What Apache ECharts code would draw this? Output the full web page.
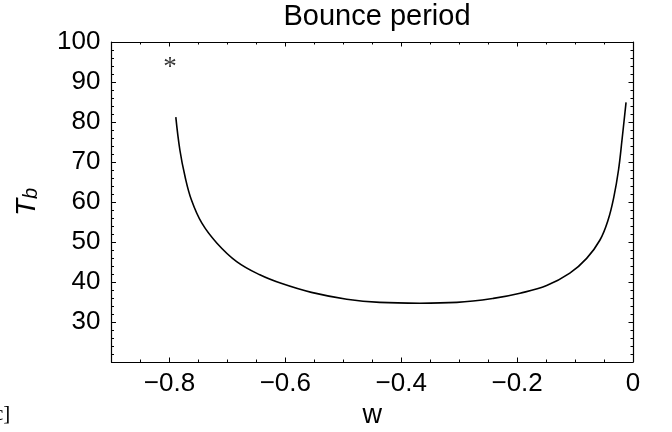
<!DOCTYPE html>
<html><head><meta charset="utf-8">
<script src="https://cdn.jsdelivr.net/npm/echarts@6/dist/echarts.min.js"></script>
<style>html,body{margin:0;padding:0;background:#fff}#c{width:672px;height:432px}</style>
</head><body><div id="c"></div>
<script>
// ---- data ----
const wValues  = [-0.789, -0.782, -0.773, -0.762, -0.744, -0.718, -0.684, -0.644, -0.606, -0.555, -0.494, -0.437, -0.368, -0.304, -0.241, -0.195, -0.149, -0.109, -0.080, -0.057, -0.043, -0.033, -0.025, -0.019, -0.012];
const tbValues = [81.2, 73.0, 66.3, 60.5, 54.7, 49.7, 45.1, 41.8, 39.6, 37.4, 35.7, 34.9, 34.7, 34.9, 35.9, 37.2, 39.1, 42.2, 45.9, 50.5, 55.5, 61.3, 68.0, 75.5, 84.9];
const starPoint = [-0.799, 93.5];
const xTickLabels = [-0.8, -0.6, -0.4, -0.2, 0];
const yTickLabels = [30, 40, 50, 60, 70, 80, 90, 100];
const titleText = 'Bounce period';
const xName = 'w';

const FONT = 'Liberation Sans';
const curve = wValues.map((w, i) => [w, tbValues[i]]);
const fmtX = v => v < 0 ? '\u2212' + Math.abs(v).toFixed(1) : String(v);

const gridPos = { left: 111.5, right: 39, top: 42, bottom: 70, outerBoundsMode: 'none' };
const line = { show: true, onZero: false, lineStyle: { color: '#000', width: 1.2 } };

const chart = echarts.init(document.getElementById('c'), null, { renderer: 'canvas' });
chart.setOption({
  animation: false,
  backgroundColor: '#fff',
  title: {
    text: titleText, left: 372, top: -3, textAlign: 'center',
    textStyle: { fontFamily: FONT, fontSize: 29, fontWeight: 'normal', color: '#000' }
  },
  grid: [Object.assign({}, gridPos), Object.assign({}, gridPos)],
  xAxis: [
    { gridIndex: 0, type: 'value', position: 'bottom', min: -0.9, max: 0, interval: 0.05,
      axisLine: line, axisTick: { inside: true, length: 2.5, lineStyle: { color: '#000' } },
      axisLabel: { show: false }, splitLine: { show: false } },
    { gridIndex: 0, type: 'value', position: 'top', min: -0.9, max: 0, interval: 0.05,
      axisLine: line, axisTick: { inside: true, length: 2.5, lineStyle: { color: '#000' } },
      axisLabel: { show: false }, splitLine: { show: false } },
    { gridIndex: 1, type: 'value', position: 'bottom', min: -0.9, max: 0,
      name: xName, nameLocation: 'middle', nameGap: 26,
      nameTextStyle: { fontFamily: FONT, fontSize: 27, color: '#000' },
      axisLine: { show: false, onZero: false },
      axisTick: { inside: true, length: 4.5, customValues: xTickLabels, lineStyle: { color: '#000' } },
      axisLabel: { customValues: xTickLabels, formatter: fmtX, margin: 9, fontFamily: FONT, fontSize: 26, color: '#000' },
      splitLine: { show: false } },
    { gridIndex: 1, type: 'value', position: 'top', min: -0.9, max: 0,
      axisLine: { show: false, onZero: false },
      axisTick: { inside: true, length: 4.5, customValues: xTickLabels, lineStyle: { color: '#000' } },
      axisLabel: { show: false }, splitLine: { show: false } }
  ],
  yAxis: [
    { gridIndex: 0, type: 'value', position: 'left', min: 20, max: 100, interval: 10,
      name: '{t|T}{s|b}', nameLocation: 'middle', nameGap: 70,
      nameTextStyle: { color: '#000', rich: {
        t: { fontFamily: FONT, fontSize: 28, fontStyle: 'italic', lineHeight: 28, verticalAlign: 'bottom', color: '#000' },
        s: { fontFamily: FONT, fontSize: 20, fontStyle: 'italic', lineHeight: 12, verticalAlign: 'bottom', color: '#000' }
      } },
      axisLine: line,
      axisTick: { inside: true, length: 4.5, lineStyle: { color: '#000' } },
      minorTick: { show: true, splitNumber: 5, length: 2.5, lineStyle: { color: '#000' } },
      axisLabel: { customValues: yTickLabels, margin: 11, fontFamily: FONT, fontSize: 26, color: '#000' },
      splitLine: { show: false } },
    { gridIndex: 0, type: 'value', position: 'right', min: 20, max: 100, interval: 10,
      axisLine: line,
      axisTick: { inside: true, length: 4.5, lineStyle: { color: '#000' } },
      minorTick: { show: true, splitNumber: 5, length: 2.5, lineStyle: { color: '#000' } },
      axisLabel: { show: false }, splitLine: { show: false } },
    { gridIndex: 1, type: 'value', min: 20, max: 100, show: false }
  ],
  graphic: [{
    type: 'text', left: -6, top: 404,
    style: { text: 'c]', font: '21px "Liberation Serif"', fill: '#000' }
  }],
  series: [
    { type: 'line', xAxisIndex: 0, yAxisIndex: 0, data: curve, smooth: 0.4,
      showSymbol: false, symbol: 'none', lineStyle: { color: '#000', width: 1.6 } },
    { type: 'scatter', xAxisIndex: 0, yAxisIndex: 0, data: [starPoint],
      symbolSize: 1, itemStyle: { color: 'rgba(0,0,0,0)' },
      label: { show: true, position: 'inside', formatter: '*', fontFamily: 'Liberation Serif', fontSize: 27, color: '#000' } }
  ]
});
</script>
</body></html>
